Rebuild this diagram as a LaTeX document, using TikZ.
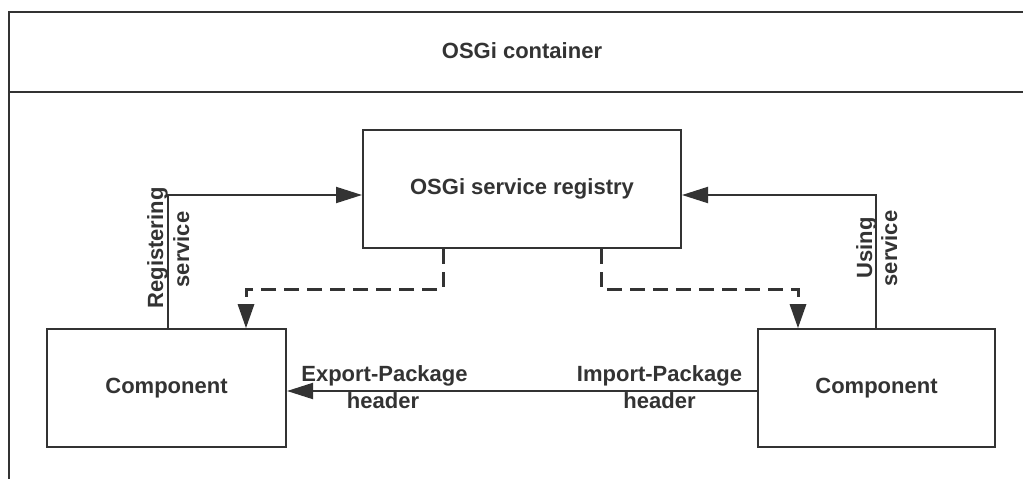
\documentclass[tikz,border=0pt]{standalone}
\usepackage{fontspec}
\setmainfont{Liberation Sans}
\usetikzlibrary{arrows.meta}
\definecolor{ink}{HTML}{333333}
\tikzset{
  box/.style={draw=ink, line width=2pt, rectangle, inner sep=0pt, text=ink,
    font=\fontsize{22}{26}\selectfont\bfseries},
  lbl/.style={text=ink, inner sep=0pt, anchor=base,
    font=\fontsize{22}{26}\selectfont\bfseries},
  solidarrow/.style={draw=ink, line width=2pt, -{Triangle[length=26pt,width=16pt]}},
  dasharrow/.style={draw=ink, line width=3pt, dash pattern=on 15pt off 8pt,
    -{Triangle[length=24pt,width=17pt,line width=0pt]}}
}
\begin{document}
\begin{tikzpicture}[x=1pt,y=-1pt]
\useasboundingbox (0,0) rectangle (1023,479);
\begin{scope}
\clip (0,0) rectangle (1023,479);
% container frame
\draw[draw=ink, line width=2pt] (9,490) -- (9,12) -- (1040,12);
\draw[draw=ink, line width=2pt] (9,92) -- (1040,92);
\end{scope}
\node[lbl] (title) at (522,58) {OSGi container};

% boxes
\node[box, minimum width=318pt, minimum height=118pt] (reg) at (522,189) {OSGi service registry};
\node[box, minimum width=239pt, minimum height=118pt] (compL) at (166.5,388) {Component};
\node[box, minimum width=237pt, minimum height=118pt] (compR) at (876.5,388) {Component};

% registering / using service
\draw[solidarrow] (compL.north -| 168,0) |- ([yshift=-6pt]reg.west);
\draw[solidarrow] (compR.north -| 876,0) |- ([yshift=-6pt]reg.east);
\node[lbl, rotate=90] (regA) at (163,248) {Registering};
\node[lbl, rotate=90] (regB) at (189,249.5) {service};
\node[lbl, rotate=90] (useA) at (872,248) {Using};
\node[lbl, rotate=90] (useB) at (897,248.5) {service};

% dashed connectors
\draw[dasharrow] (reg.south -| 443,0) -- ++(0,40) -| (compL.north -| 246,0);
\draw[dasharrow] (reg.south -| 601,0) -- ++(0,40) -| (compR.north -| 798,0);

% package headers
\draw[solidarrow] ([yshift=-3pt]compR.west) -- ([yshift=-3pt]compL.east);
\node[lbl] (expA) at (384.5,381) {Export-Package};
\node[lbl] (expB) at (383,408) {header};
\node[lbl] (impA) at (659.5,381) {Import-Package};
\node[lbl] (impB) at (659.5,408) {header};
\end{tikzpicture}
\end{document}
